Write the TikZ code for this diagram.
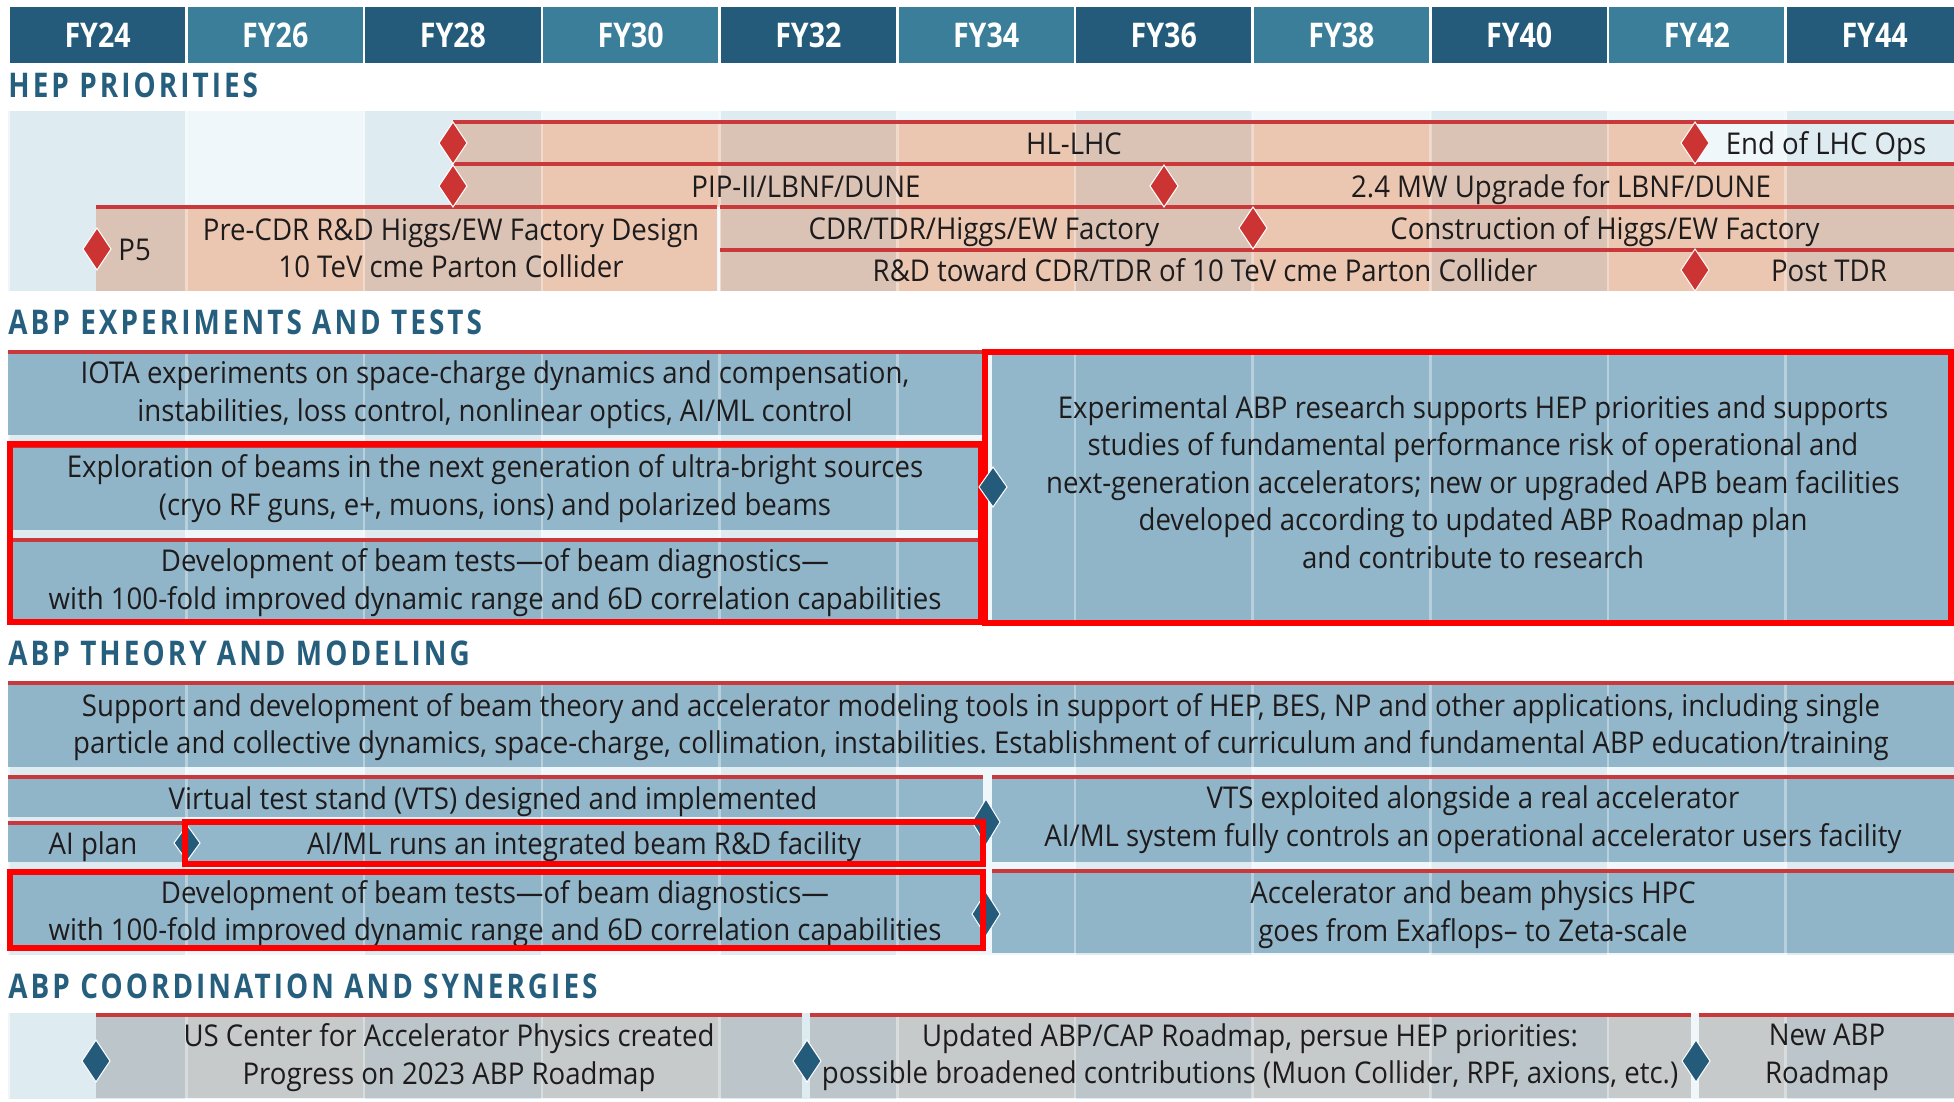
\documentclass[tikz,border=0pt]{standalone}
\usepackage{fontspec}
\setmainfont{Open Sans}[FakeStretch=0.92]
\newfontfamily\hdrfont{Open Sans}[FakeStretch=0.84]
\newfontfamily\secfont{Open Sans}[FakeStretch=0.82,LetterSpace=9]
\definecolor{hdrdark}{HTML}{245B7A}
\definecolor{hdrlight}{HTML}{3A7E99}
\definecolor{seclbl}{HTML}{265E7E}
\definecolor{bandbg}{HTML}{EFF7FA}
\definecolor{colshade}{HTML}{7FAFC8}
\definecolor{pinkbar}{HTML}{EBC7B1}
\definecolor{bluebar}{HTML}{93B7CA}
\definecolor{greybar}{HTML}{C6CACB}
\definecolor{redline}{HTML}{C9393B}
\definecolor{reddmd}{HTML}{CC3333}
\definecolor{bluedmd}{HTML}{245B7A}
\definecolor{hilite}{HTML}{FF0000}
\definecolor{txtc}{HTML}{1E1B1C}
\newcommand\secband[2]{\fill[bandbg] (8,#1) rectangle (1954,#2);}
\newcommand\colshading[2]{%
  \foreach \i in {0,2,4,6,8,10}{\fill[colshade, fill opacity=0.15] ({8.7+177.7*\i+1},#1) rectangle ({8.7+177.7*(\i+1)-1},#2);}
  \foreach \i in {1,...,10}{\fill[white, fill opacity=0.35] ({8.7+177.7*\i-1.3},#1) rectangle ({8.7+177.7*\i+1.3},#2);}}
\newcommand\dmd[5]{\filldraw[fill=#3, draw=white, line width=0.5pt] ({#1-#4/2},{#2}) -- ({#1},{#2-#5/2}) -- ({#1+#4/2},{#2}) -- ({#1},{#2+#5/2}) -- cycle;}
\begin{document}
\frenchspacing
\begin{tikzpicture}[x=0.5pt,y=-0.5pt,
  txt/.style={font=\fontsize{15}{18.75}\selectfont, text=txtc, align=center, inner sep=0pt, yshift=-2.2pt,
    execute at begin node=\strut, execute at end node=\strut},
  hdr/.style={font=\hdrfont\bfseries\fontsize{17}{19}\selectfont, text=white, inner sep=0pt},
  sec/.style={font=\secfont\bfseries\fontsize{17}{19}\selectfont, text=seclbl, anchor=west, inner sep=0pt},
  redtop/.style={draw=redline, line width=1.7pt},
  hl/.style={draw=hilite, line width=3.3pt},
]
\useasboundingbox (0,0) rectangle (1954,1102);
\fill[white] (0,0) rectangle (1954,1102);

% ---------- header ----------
\foreach \i/\lab in {0/FY24,2/FY28,4/FY32,6/FY36,8/FY40,10/FY44}{
  \fill[hdrdark] ({8.7+177.7*\i+1.3},7) rectangle ({8.7+177.7*(\i+1)-1.3},63);
  \node[hdr] (h\lab) at ({8.7+177.7*(\i+0.5)},35) {\lab};}
\foreach \i/\lab in {1/FY26,3/FY30,5/FY34,7/FY38,9/FY42}{
  \fill[hdrlight] ({8.7+177.7*\i+1.3},7) rectangle ({8.7+177.7*(\i+1)-1.3},63);
  \node[hdr] (h\lab) at ({8.7+177.7*(\i+0.5)},35) {\lab};}

% ---------- HEP priorities ----------
\node[sec] (lblhep) at (8,85) {HEP PRIORITIES};
\secband{111}{291}
\fill[pinkbar] (453,122) rectangle (1695,164);
\fill[pinkbar] (453,164) rectangle (1954,207);
\fill[pinkbar] (96,207) rectangle (717,291);
\fill[pinkbar] (720,207) rectangle (1954,250);
\fill[pinkbar] (720,250) rectangle (1954,291);
\colshading{111}{291}
\draw[redtop] (453,122) -- (1954,122);
\draw[redtop] (453,164) -- (1954,164);
\draw[redtop] (96,207) -- (717,207);
\draw[redtop] (720,207) -- (1954,207);
\draw[redtop] (720,250) -- (1954,250);
\dmd{453}{143}{reddmd}{28}{42}
\dmd{1695}{143}{reddmd}{28}{42}
\dmd{453}{186}{reddmd}{28}{42}
\dmd{1164}{186}{reddmd}{28}{42}
\dmd{1253}{228}{reddmd}{28}{42}
\dmd{1695}{270}{reddmd}{28}{42}
\dmd{97}{249}{reddmd}{28}{42}
\node[txt] (hllhc) at (1074,143) {HL-LHC};
\node[txt] (endlhc) at (1826,143) {End of LHC Ops};
\node[txt] (pip) at (806,186) {PIP-II/LBNF/DUNE};
\node[txt] (mw) at (1561,186) {2.4 MW Upgrade for LBNF/DUNE};
\node[txt, anchor=west] (p5) at (118,249) {P5};
\node[txt] (precdr) at (451,249) {Pre-CDR R\&D Higgs/EW Factory Design\\10 TeV cme Parton Collider};
\node[txt] (cdr) at (984,228) {CDR/TDR/Higgs/EW Factory};
\node[txt] (constr) at (1605,228) {Construction of Higgs/EW Factory};
\node[txt] (rdtoward) at (1205,270) {R\&D toward CDR/TDR of 10 TeV cme Parton Collider};
\node[txt] (posttdr) at (1829,270) {Post TDR};

% ---------- ABP experiments and tests ----------
\node[sec] (lblexp) at (8,322) {ABP EXPERIMENTS AND TESTS};
\secband{350}{625}
\fill[bluebar] (8,352) rectangle (983,435);
\fill[bluebar] (8,446) rectangle (983,530);
\fill[bluebar] (8,540) rectangle (983,621);
\fill[bluebar] (992,352) rectangle (1954,622);
\colshading{350}{625}
\draw[redtop] (8,352) -- (983,352);
\draw[redtop] (8,446) -- (983,446);
\draw[redtop] (8,540) -- (983,540);
\draw[redtop] (992,352) -- (1954,352);
\node[txt] (iota) at (495,392.5) {IOTA experiments on space-charge dynamics and compensation,\\instabilities, loss control, nonlinear optics, AI/ML control};
\node[txt] (explor) at (495,486) {Exploration of beams in the next generation of ultra-bright sources\\(cryo RF guns, e+, muons, ions) and polarized beams};
\node[txt] (devexp) at (495,580) {Development of beam tests—of beam diagnostics—\\with 100-fold improved dynamic range and 6D correlation capabilities};
\node[txt] (expright) at (1473,483) {Experimental ABP research supports HEP priorities and supports\\studies of fundamental performance risk of operational and\\next-generation accelerators; new or upgraded APB beam facilities\\developed according to updated ABP Roadmap plan\\and contribute to research};
\draw[hl] (10,444) rectangle (981,622);
\draw[hl] (985,352) rectangle (1951,623);
\dmd{993}{487}{bluedmd}{28}{40}

% ---------- ABP theory and modeling ----------
\node[sec] (lblthe) at (8,653) {ABP THEORY AND MODELING};
\secband{681}{955}
\fill[bluebar] (8,683) rectangle (1954,767);
\fill[bluebar] (8,777) rectangle (983,817);
\fill[bluebar] (8,823) rectangle (184,862);
\fill[bluebar] (187,823) rectangle (983,862);
\fill[bluebar] (992,777) rectangle (1954,862);
\fill[bluebar] (8,871) rectangle (983,950);
\fill[bluebar] (992,871) rectangle (1954,953);
\colshading{681}{955}
\draw[redtop] (8,683) -- (1954,683);
\draw[redtop] (8,777) -- (983,777);
\draw[redtop] (8,823) -- (184,823);
\draw[redtop] (187,823) -- (983,823);
\draw[redtop] (992,777) -- (1954,777);
\draw[redtop] (8,871) -- (983,871);
\draw[redtop] (992,871) -- (1954,871);
\dmd{187}{843}{bluedmd}{26}{36}
\dmd{986}{822}{bluedmd}{28}{46}
\dmd{986}{914}{bluedmd}{28}{44}
\node[txt] (support) at (981,724.5) {Support and development of beam theory and accelerator modeling tools in support of HEP, BES, NP and other applications, including single\\particle and collective dynamics, space-charge, collimation, instabilities. Establishment of curriculum and fundamental ABP education/training};
\node[txt] (vts) at (493,798) {Virtual test stand (VTS) designed and implemented};
\node[txt] (aiplan) at (93,843) {AI plan};
\node[txt] (aiml) at (584,843) {AI/ML runs an integrated beam R\&D facility};
\node[txt] (vtsright) at (1473,817.5) {VTS exploited alongside a real accelerator\\AI/ML system fully controls an operational accelerator users facility};
\node[txt] (devthe) at (495,911.5) {Development of beam tests—of beam diagnostics—\\with 100-fold improved dynamic range and 6D correlation capabilities};
\node[txt] (hpc) at (1473,912.5) {Accelerator and beam physics HPC\\goes from Exaflops– to Zeta-scale};
\draw[hl] (185,822) rectangle (983,864);
\draw[hl] (10,872) rectangle (983,948);

% ---------- ABP coordination and synergies ----------
\node[sec] (lblcoo) at (8,986) {ABP COORDINATION AND SYNERGIES};
\secband{1013}{1099}
\fill[greybar] (96,1015) rectangle (802,1098);
\fill[greybar] (810,1015) rectangle (1691,1098);
\fill[greybar] (1699,1015) rectangle (1954,1098);
\colshading{1013}{1099}
\draw[redtop] (96,1015) -- (802,1015);
\draw[redtop] (810,1015) -- (1691,1015);
\draw[redtop] (1699,1015) -- (1954,1015);
\dmd{96}{1061}{bluedmd}{28}{42}
\dmd{807}{1061}{bluedmd}{28}{42}
\dmd{1696}{1061}{bluedmd}{28}{42}
\node[txt] (uscenter) at (449,1055) {US Center for Accelerator Physics created\\Progress on 2023 ABP Roadmap};
\node[txt] (updated) at (1250,1055) {Updated ABP/CAP Roadmap, persue HEP priorities:\\possible broadened contributions (Muon Collider, RPF, axions, etc.)};
\node[txt] (newabp) at (1827,1055) {New ABP\\Roadmap};
\end{tikzpicture}
\end{document}
